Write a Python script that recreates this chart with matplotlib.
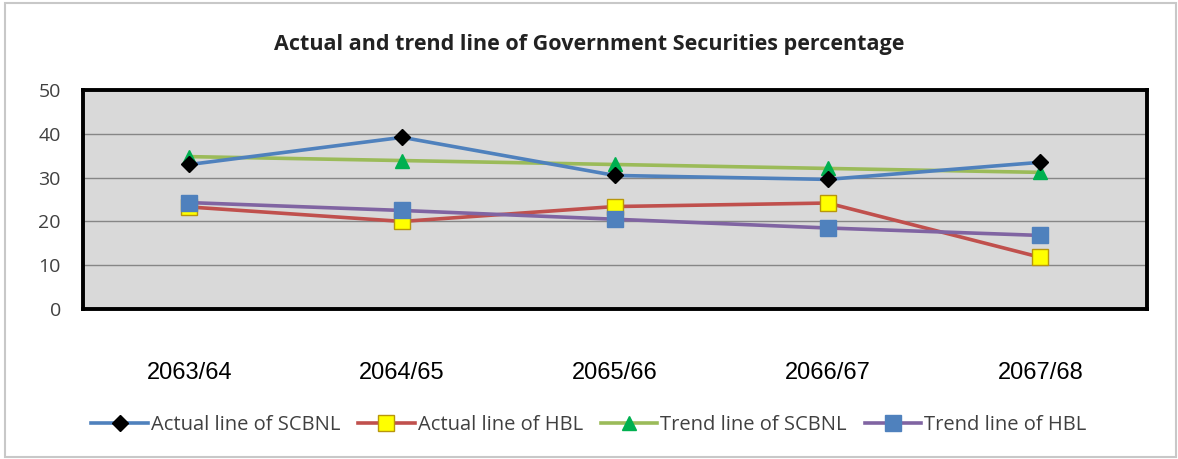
import matplotlib
matplotlib.use('Agg')
import matplotlib.pyplot as plt
from matplotlib.patches import Rectangle
from matplotlib import font_manager

years = ['2063/64', '2064/65', '2065/66', '2066/67', '2067/68']
actual_scbnl = [33.0, 39.2, 30.5, 29.6, 33.5]
actual_hbl = [23.3, 20.0, 23.4, 24.2, 11.8]
trend_scbnl = [34.8, 33.9, 33.0, 32.1, 31.2]
trend_hbl = [24.3, 22.5, 20.5, 18.5, 16.8]

names = {f.name for f in font_manager.fontManager.ttflist}
narrow = 'Liberation Sans Narrow' if 'Liberation Sans Narrow' in names else 'Liberation Sans'
body = 'Open Sans' if 'Open Sans' in names else 'DejaVu Sans'

fig = plt.figure(figsize=(11.78, 4.59), dpi=100)
fig.patches.append(Rectangle((0.004, 0.004), 0.994, 0.99, transform=fig.transFigure,
                             fill=False, edgecolor='#c8c8c8', lw=1.5))
ax = fig.add_axes([0.0705, 0.3268, 0.903, 0.477])
ax.set_facecolor('#d9d9d9')

x = range(len(years))
ax.plot(x, actual_scbnl, color='#4f81bd', lw=2.6, marker='D', ms=8,
        mfc='black', mec='black', label='Actual line of SCBNL', zorder=4)
ax.plot(x, actual_hbl, color='#c0504d', lw=2.6, marker='s', ms=11,
        mfc='#ffff00', mec='#b8960c', mew=1, label='Actual line of HBL', zorder=3)
ax.plot(x, trend_scbnl, color='#9bbb59', lw=2.6, marker='^', ms=10,
        mfc='#00b050', mec='#00b050', label='Trend line of SCBNL', zorder=3)
ax.plot(x, trend_hbl, color='#8064a2', lw=2.6, marker='s', ms=11,
        mfc='#4f81bd', mec='#4f81bd', label='Trend line of HBL', zorder=3)

ax.set_xlim(-0.5, 4.5)
ax.set_ylim(0, 50)
ax.set_yticks([0, 10, 20, 30, 40, 50])
ax.grid(axis='y', color='#868686', lw=1)
ax.set_axisbelow(True)
ax.set_xticks(list(x))
ax.set_xticklabels(years, family=narrow, fontsize=17, color='black')
ax.tick_params(axis='x', length=0, pad=38)
ax.tick_params(axis='y', length=0, pad=16, labelsize=14, labelcolor='#404040')
for lab in ax.get_yticklabels():
    lab.set_family(body)
for s in ax.spines.values():
    s.set_color('black')
    s.set_linewidth(2.8)

fig.suptitle('Actual and trend line of Government Securities percentage',
             x=0.5, y=0.925, fontsize=15.5, fontweight='bold', family=body, color='#222222')

fig.legend(loc='center', bbox_to_anchor=(0.5, 1 - 425 / 459), ncol=4, frameon=False,
           handlelength=2.8, columnspacing=0.9, handletextpad=0.15,
           prop={'family': body, 'size': 14.5}, labelcolor='#404040')

fig.savefig('out.png', dpi=100)
